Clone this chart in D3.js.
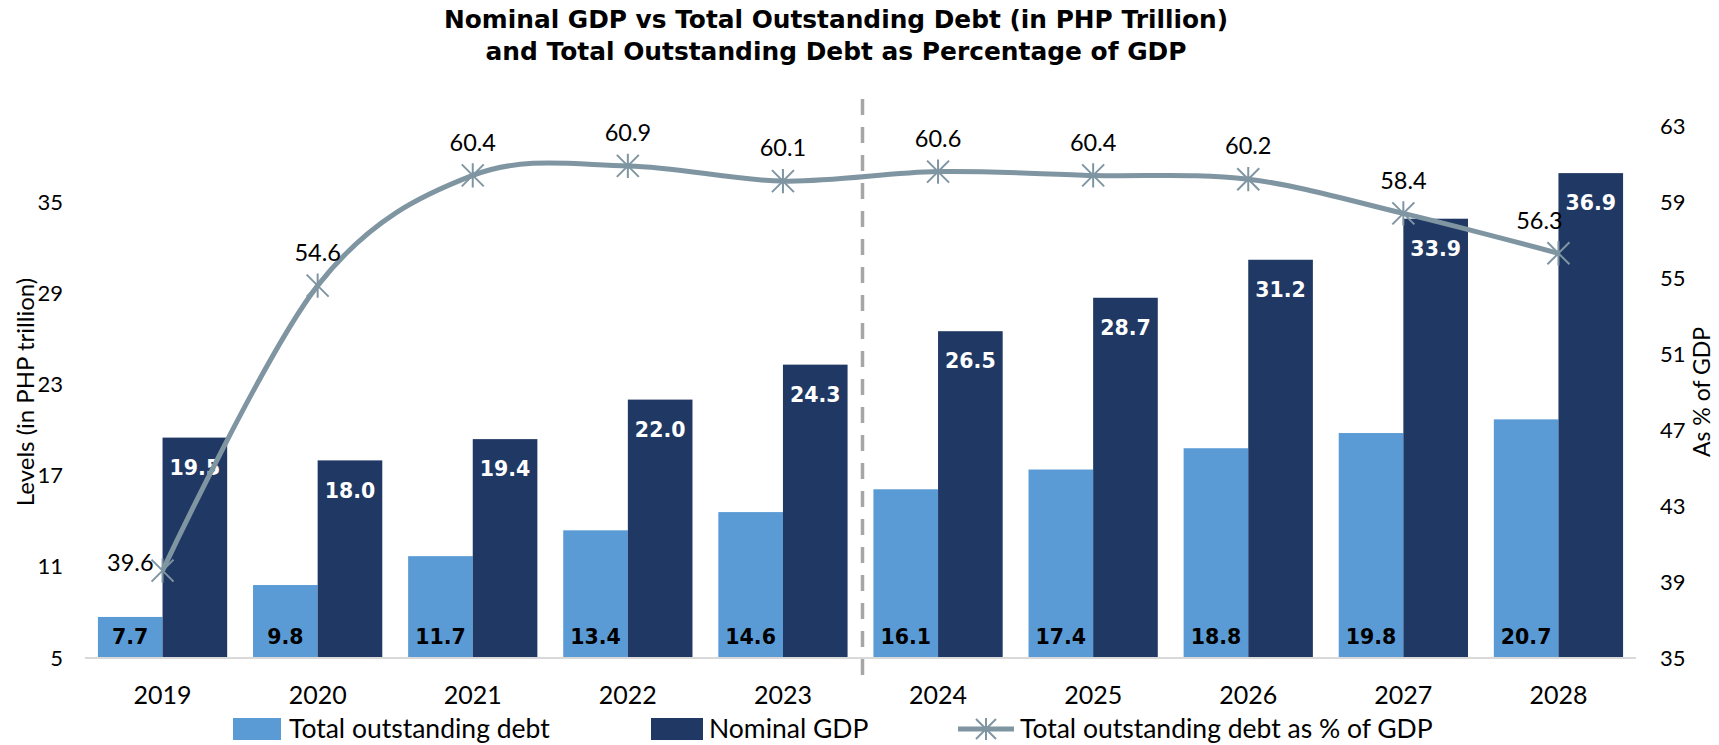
<!DOCTYPE html>
<html>
<head>
<meta charset="utf-8">
<script src="https://cdn.jsdelivr.net/npm/d3@7/dist/d3.min.js"></script>
<style>
  html, body { margin: 0; padding: 0; background: #ffffff; }
  svg { display: block; }
  .lato { font-family: Lato, "Open Sans", sans-serif; fill: #000; }
  .bold { font-family: "DejaVu Sans", Verdana, sans-serif; font-weight: bold; }
</style>
</head>
<body>
<svg id="chart" width="1719" height="745"></svg>
<script>
// Calendar years on the category axis
const years = ["2019", "2020", "2021", "2022", "2023", "2024", "2025", "2026", "2027", "2028"];
// Total outstanding debt, PHP trillion
const debt = [7.7, 9.8, 11.7, 13.4, 14.6, 16.1, 17.4, 18.8, 19.8, 20.7];
// Nominal GDP, PHP trillion
const gdp = [19.5, 18.0, 19.4, 22.0, 24.3, 26.5, 28.7, 31.2, 33.9, 36.9];
// Debt as a share of GDP, percent
const debtPct = [39.6, 54.6, 60.4, 60.9, 60.1, 60.6, 60.4, 60.2, 58.4, 56.3];
// Axis tick labels
const leftTicks = [5, 11, 17, 23, 29, 35];
const rightTicks = [35, 39, 43, 47, 51, 55, 59, 63];
// First projected year (separated by the dashed rule)
const projectionStart = "2024";

const titleLines = [
  "Nominal GDP vs Total Outstanding Debt (in PHP Trillion)",
  "and Total Outstanding Debt as Percentage of GDP"
];
const seriesNames = ["Total outstanding debt", "Nominal GDP", "Total outstanding debt as % of GDP"];

const colDebt = "#5b9bd5";
const colGdp = "#203864";
const colLine = "#7f96a2";

const svg = d3.select("#chart");

const plot = { left: 85, right: 1636, top: 126, bottom: 658 };

const x = d3.scaleBand().domain(years).range([plot.left, plot.right]).paddingInner(0).paddingOuter(0);
const xSub = d3.scaleBand().domain(["debt", "gdp"]).range([0, x.bandwidth()]).paddingInner(0).paddingOuter(0.2);
const yL = d3.scaleLinear().domain([5, 40]).range([plot.bottom, plot.top]);
const yR = d3.scaleLinear().domain([35, 63]).range([plot.bottom, plot.top]);

// Title
svg.append("g").selectAll("text")
  .data(titleLines)
  .join("text")
  .attr("class", "bold")
  .attr("x", 836)
  .attr("y", (d, i) => 28 + i * 32)
  .attr("text-anchor", "middle")
  .attr("font-size", 25)
  .attr("fill", "#000")
  .attr("textLength", (d, i) => i === 0 ? 784 : 701)
  .attr("lengthAdjust", "spacingAndGlyphs")
  .text(d => d);

// Bars
const groups = svg.append("g").selectAll("g")
  .data(years)
  .join("g")
  .attr("transform", d => `translate(${x(d)},0)`);

groups.append("rect")
  .attr("x", xSub("debt"))
  .attr("width", xSub.bandwidth())
  .attr("y", (d, i) => yL(debt[i]))
  .attr("height", (d, i) => yL(5) - yL(debt[i]))
  .attr("fill", colDebt);

groups.append("rect")
  .attr("x", xSub("gdp"))
  .attr("width", xSub.bandwidth())
  .attr("y", (d, i) => yL(gdp[i]))
  .attr("height", (d, i) => yL(5) - yL(gdp[i]))
  .attr("fill", colGdp);

// Baseline
svg.append("line")
  .attr("x1", plot.left).attr("x2", plot.right)
  .attr("y1", plot.bottom).attr("y2", plot.bottom)
  .attr("stroke", "#d9d9d9").attr("stroke-width", 2);

// Bar value labels
groups.append("text")
  .attr("class", "bold")
  .attr("x", xSub("debt") + xSub.bandwidth() / 2)
  .attr("y", plot.bottom - 21)
  .attr("dy", "0.35em")
  .attr("text-anchor", "middle")
  .attr("font-size", 20.5)
  .attr("fill", "#000")
  .text((d, i) => debt[i].toFixed(1));

groups.append("text")
  .attr("class", "bold")
  .attr("x", xSub("gdp") + xSub.bandwidth() / 2)
  .attr("y", (d, i) => yL(gdp[i]) + 30)
  .attr("dy", "0.35em")
  .attr("text-anchor", "middle")
  .attr("font-size", 20.5)
  .attr("fill", "#fff")
  .text((d, i) => gdp[i].toFixed(1));

// Dashed rule before the projection years
const splitX = x(projectionStart) + 2;
svg.append("line")
  .attr("x1", splitX).attr("x2", splitX)
  .attr("y1", 99).attr("y2", 680)
  .attr("stroke", "#a6a6a6").attr("stroke-width", 3.5)
  .attr("stroke-dasharray", "16,12");

// Debt-to-GDP line
const cx = d => x(d) + x.bandwidth() / 2;
const line = d3.line()
  .x((d, i) => cx(years[i]))
  .y(d => yR(d))
  .curve(d3.curveCatmullRom.alpha(0));

svg.append("path")
  .datum(debtPct)
  .attr("d", line)
  .attr("fill", "none")
  .attr("stroke", colLine)
  .attr("stroke-width", 5)
  .attr("stroke-linejoin", "round");

// Asterisk markers
function asterisk(sel, r) {
  sel.append("path")
    .attr("d", `M${-r},${-r}L${r},${r}M${-r},${r}L${r},${-r}M0,${-r * 1.1}L0,${r * 1.1}`)
    .attr("stroke", colLine)
    .attr("stroke-width", 2)
    .attr("fill", "none");
}

svg.append("g").selectAll("g")
  .data(debtPct)
  .join("g")
  .attr("transform", (d, i) => `translate(${cx(years[i])},${yR(d)})`)
  .call(asterisk, 11);

// Line value labels
svg.append("g").selectAll("text")
  .data(debtPct)
  .join("text")
  .attr("class", "lato")
  .attr("font-size", 23.5)
  .attr("x", (d, i) => {
    if (i === 0) return cx(years[i]) - 9;
    if (i === years.length - 1) return cx(years[i]) - 19;
    return cx(years[i]);
  })
  .attr("y", (d, i) => i === 0 ? yR(d) - 8 : yR(d) - 33)
  .attr("dy", "0.35em")
  .attr("text-anchor", (d, i) => i === 0 ? "end" : "middle")
  .text(d => d.toFixed(1));

// Axes
const leftAxis = d3.axisLeft(yL).tickValues(leftTicks).tickSize(0).tickPadding(22);
const gL = svg.append("g").attr("transform", `translate(${plot.left},0)`).call(leftAxis);
gL.select(".domain").remove();
gL.selectAll("text").attr("class", "lato").attr("font-size", 22).attr("fill", "#000");

const rightAxis = d3.axisRight(yR).tickValues(rightTicks).tickSize(0).tickPadding(24);
const gR = svg.append("g").attr("transform", `translate(${plot.right},0)`).call(rightAxis);
gR.select(".domain").remove();
gR.selectAll("text").attr("class", "lato").attr("font-size", 22).attr("fill", "#000");

const bottomAxis = d3.axisBottom(x).tickSize(0).tickPadding(28);
const gB = svg.append("g").attr("transform", `translate(0,${plot.bottom})`).call(bottomAxis);
gB.select(".domain").remove();
gB.selectAll("text").attr("class", "lato").attr("font-size", 25).attr("fill", "#000");

// Axis titles
svg.append("text")
  .attr("class", "lato")
  .attr("font-size", 24)
  .attr("text-anchor", "middle")
  .attr("transform", `translate(26,${(plot.top + plot.bottom) / 2}) rotate(-90)`)
  .attr("dy", "0.35em")
  .text("Levels (in PHP trillion)");

svg.append("text")
  .attr("class", "lato")
  .attr("font-size", 23)
  .attr("text-anchor", "middle")
  .attr("transform", `translate(1702,${(plot.top + plot.bottom) / 2}) rotate(-90)`)
  .attr("dy", "0.35em")
  .text("As % of GDP");

// Legend
const legendY = 729;
const legendItems = [
  { name: seriesNames[0], type: "rect", color: colDebt, x0: 233, x1: 281, tx: 289 },
  { name: seriesNames[1], type: "rect", color: colGdp, x0: 651, x1: 703, tx: 709 },
  { name: seriesNames[2], type: "line", color: colLine, x0: 958, x1: 1014, tx: 1020 }
];
const lg = svg.append("g").selectAll("g").data(legendItems).join("g");
lg.filter(d => d.type === "rect").append("rect")
  .attr("x", d => d.x0).attr("width", d => d.x1 - d.x0)
  .attr("y", legendY - 11).attr("height", 22)
  .attr("fill", d => d.color);
const lgLine = lg.filter(d => d.type === "line");
lgLine.append("line")
  .attr("x1", d => d.x0).attr("x2", d => d.x1)
  .attr("y1", legendY).attr("y2", legendY)
  .attr("stroke", d => d.color).attr("stroke-width", 5);
lgLine.append("g")
  .attr("transform", d => `translate(${(d.x0 + d.x1) / 2},${legendY})`)
  .call(asterisk, 10);
lg.append("text")
  .attr("class", "lato")
  .attr("font-size", 26.5)
  .attr("x", d => d.tx)
  .attr("y", legendY)
  .attr("dy", "0.35em")
  .text(d => d.name);
</script>
</body>
</html>
